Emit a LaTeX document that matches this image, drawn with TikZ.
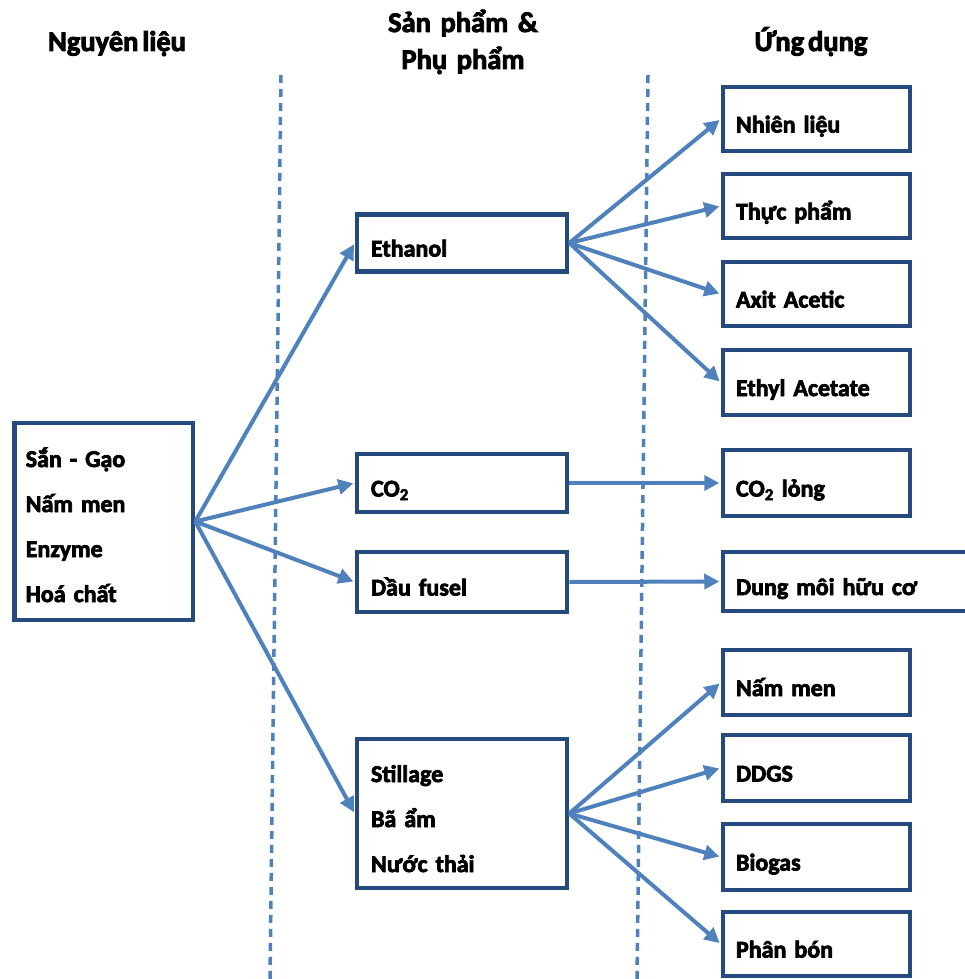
\documentclass[tikz,border=0pt]{standalone}
\usepackage{fontspec}
\setmainfont{Carlito}[BoldFont={Carlito Bold}, BoldFeatures={FakeBold=3}, WordSpace=0.6]
\usetikzlibrary{arrows.meta}
\definecolor{boxblue}{RGB}{36,74,126}
\definecolor{arrblue}{RGB}{79,129,189}
\begin{document}
\begin{tikzpicture}[x=1pt,y=-1pt,
  box/.style={draw=boxblue, line width=4.5pt, rectangle, inner xsep=13pt, inner ysep=0pt,
    font=\fontsize{24}{45}\selectfont\bfseries, text height=27pt, text depth=0pt, align=left},
  rbox/.style={box, minimum width=187pt, text width=161pt},
  mbox/.style={box, minimum width=210pt, text width=182pt, inner xsep=14pt},
  hdr/.style={font=\fontsize{28.5}{37}\selectfont\bfseries, inner sep=0pt},
  arr/.style={draw=arrblue, line width=4pt, shorten >=1.5pt, -{Triangle[length=15pt,width=15pt]}},
  sepline/.style={draw=arrblue, line width=3.5pt, dash pattern=on 8pt off 6pt}]
\useasboundingbox (0,0) rectangle (965,979);
% headers
\node[hdr, anchor=base] (h1) at (117,51) {Nguyên liệu};
\node[hdr, anchor=base, align=center, text width=220pt] (h2) at (463,32) {Sản phẩm \&\\Phụ phẩm};
\node[hdr, anchor=base] (h3) at (811,51) {Ứng dụng};
% separators
\draw[sepline] (281,75) -- (270,979);
\draw[sepline] (648,75) -- (637,979);
% source
\node[box, minimum width=178.5pt, minimum height=197pt, text width=156pt, inner xsep=11pt,
  text height=0pt, text depth=109pt] (src) at (103.75,521.5)
  {Sắn - Gạo\\Nấm men\\Enzyme\\Hoá chất};
% middle column
\node[mbox, minimum height=57pt] (eth) at (462,243) {Ethanol};
\node[mbox, minimum height=58pt] (co2) at (462,483) {CO\textsubscript{2}};
\node[mbox, minimum height=60pt] (fus) at (462,582) {Dầu fusel};
\node[mbox, minimum height=149pt, text height=0pt, text depth=63pt] (sti) at (462,813.5)
  {Stillage\\Bã ẩm\\Nước thải};
% right column
\node[rbox, minimum height=64pt] (nl) at (816.5,119) {Nhiên liệu};
\node[rbox, minimum height=64pt] (tp) at (816.5,206) {Thực phẩm};
\node[rbox, minimum height=64pt] (aa) at (816.5,294) {Axit Acetic};
\node[rbox, minimum height=65pt] (ea) at (816.5,382.5) {Ethyl Acetate};
\node[rbox, minimum height=66pt] (co2l) at (816.5,483) {CO\textsubscript{2} lỏng};
\node[box, minimum width=252pt, text width=226pt, minimum height=59pt] (dm) at (849,581.5) {Dung môi hữu cơ};
\node[rbox, minimum height=65pt] (nm) at (816.5,682.5) {Nấm men};
\node[rbox, minimum height=66pt] (ddgs) at (816.5,768) {DDGS};
\node[rbox, minimum height=66pt] (bio) at (816.5,857) {Biogas};
\node[rbox, minimum height=64pt] (pb) at (816.5,944) {Phân bón};
% arrows
\draw[arr] (src.east) -- (eth.west);
\draw[arr] (src.east) -- (co2.west);
\draw[arr] (src.east) -- (fus.west);
\draw[arr] (src.east) -- (sti.west);
\draw[arr] (eth.east) -- (nl.west);
\draw[arr] (eth.east) -- (tp.west);
\draw[arr] (eth.east) -- (aa.west);
\draw[arr] (eth.east) -- (ea.west);
\draw[arr] (co2.east) -- (co2l.west);
\draw[arr] (fus.east) -- (dm.west);
\draw[arr] (sti.east) -- (nm.west);
\draw[arr] (sti.east) -- (ddgs.west);
\draw[arr] (sti.east) -- (bio.west);
\draw[arr] (sti.east) -- (pb.west);
\end{tikzpicture}
\end{document}
